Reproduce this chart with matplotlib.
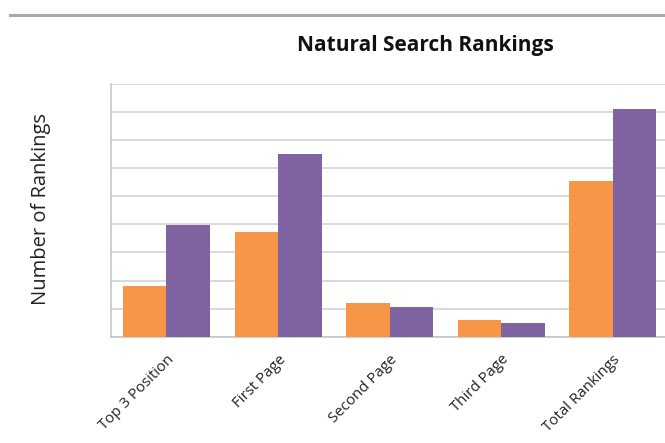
import matplotlib
matplotlib.use("Agg")
import matplotlib.pyplot as plt
from matplotlib.lines import Line2D
import numpy as np

categories = ["Top 3 Position", "First Page", "Second Page", "Third Page", "Total Rankings"]
series_a = [1.82, 3.73, 1.19, 0.59, 5.56]
series_b = [3.97, 6.51, 1.06, 0.48, 8.10]

plt.rcParams['font.family'] = ['Open Sans', 'DejaVu Sans']

fig = plt.figure(figsize=(6.65, 4.43), dpi=100)
ax = fig.add_axes([0.1665, 0.240, 1.0 - 0.1665, 0.8104 - 0.240])

x = np.arange(len(categories))
w = 0.39
ax.bar(x - w / 2, series_a, width=w, color="#F79646", zorder=3)
ax.bar(x + w / 2, series_b, width=w, color="#8064A2", zorder=3)

ax.set_xlim(-0.5, 4.47)
ax.set_ylim(0, 9)
ax.set_yticks(np.arange(0, 10, 1))
ax.set_yticklabels([])
ax.tick_params(axis='y', length=0)
ax.tick_params(axis='x', length=0, pad=11)
ax.grid(axis='y', color="#cfcfcf", linewidth=1.1, zorder=0)
ax.set_xticks(x)
ax.set_xticklabels(categories, rotation=45, ha='right', rotation_mode='anchor',
                   fontsize=10.8, color="#222222")

for s in ['top', 'right']:
    ax.spines[s].set_visible(False)
for s in ['left', 'bottom']:
    ax.spines[s].set_color("#c4c4c4")
    ax.spines[s].set_linewidth(1.1)

fig.text(425 / 665, 1 - 46 / 443, "Natural Search Rankings", ha='center', va='center',
         fontsize=15, fontweight='bold', color="#111111")
fig.text(41 / 665, 1 - 209 / 443, "Number of Rankings", ha='center', va='center',
         rotation=90, fontsize=14.5, color="#222222")

fig.add_artist(Line2D([10 / 665, 1.0], [1 - 15 / 443, 1 - 15 / 443], color="#a8a8a8",
                      linewidth=2.2, transform=fig.transFigure))

fig.savefig("out.png", dpi=100)
